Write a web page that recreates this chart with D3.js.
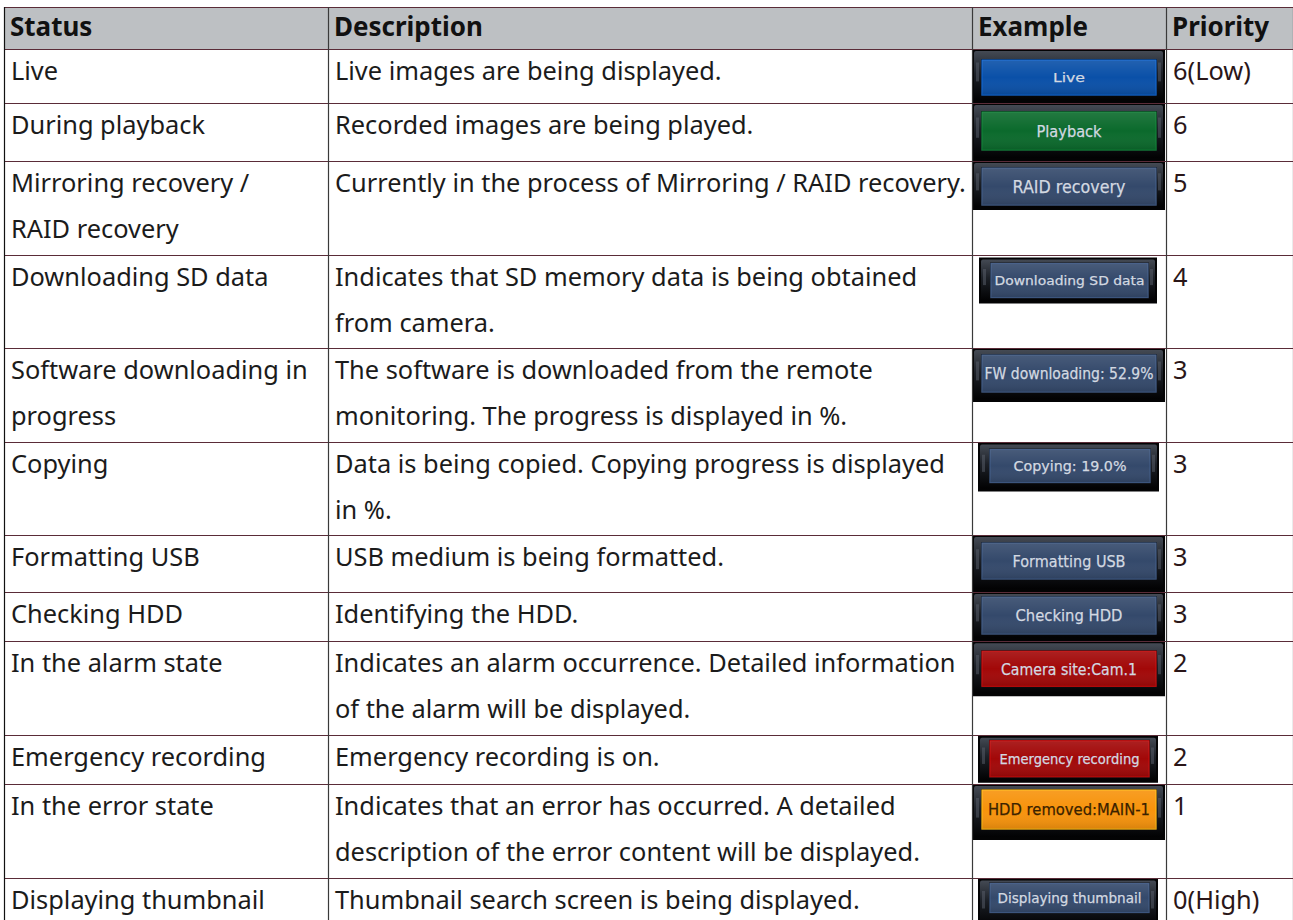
<!DOCTYPE html>
<html><head><meta charset="utf-8">
<script src="https://cdn.jsdelivr.net/npm/d3@7"></script>
<style>body{margin:0;background:#fff;overflow:hidden}</style>
</head><body>
<svg id="chart" width="1293" height="920"></svg>
<script>
// ---------- DATA ----------
const headers = ["Status", "Description", "Example", "Priority"];
const statuses = [
  ["Live"],
  ["During playback"],
  ["Mirroring recovery /", "RAID recovery"],
  ["Downloading SD data"],
  ["Software downloading in", "progress"],
  ["Copying"],
  ["Formatting USB"],
  ["Checking HDD"],
  ["In the alarm state"],
  ["Emergency recording"],
  ["In the error state"],
  ["Displaying thumbnail"]
];
const descriptions = [
  ["Live images are being displayed."],
  ["Recorded images are being played."],
  ["Currently in the process of Mirroring / RAID recovery."],
  ["Indicates that SD memory data is being obtained", "from camera."],
  ["The software is downloaded from the remote", "monitoring. The progress is displayed in %."],
  ["Data is being copied. Copying progress is displayed", "in %."],
  ["USB medium is being formatted."],
  ["Identifying the HDD."],
  ["Indicates an alarm occurrence. Detailed information", "of the alarm will be displayed."],
  ["Emergency recording is on."],
  ["Indicates that an error has occurred. A detailed", "description of the error content will be displayed."],
  ["Thumbnail search screen is being displayed."]
];
const exampleLabels = [
  "Live", "Playback", "RAID recovery", "Downloading SD data", "FW downloading: 52.9%",
  "Copying: 19.0%", "Formatting USB", "Checking HDD", "Camera site:Cam.1",
  "Emergency recording", "HDD removed:MAIN-1", "Displaying thumbnail"
];
const priorities = ["6(Low)", "6", "5", "4", "3", "3", "3", "3", "2", "2", "1", "0(High)"];

// ---------- STYLE / LAYOUT ----------
const colEdges = [4, 328, 972, 1166, 1293];
const tableTop = 7, headerH = 42;
const BLUE = "#0a50a8", GREEN = "#0b6a2c", SLATE = "#34496b", RED = "#a20808", ORANGE = "#f7930c";
const buttonStyles = [
  {fill: BLUE,   full: true,  dy: 0, h: 54, it: 11, ih: 35, fs: 12.5, tw: 32},
  {fill: GREEN,  full: true,  dy: 0, h: 58, it: 9,  ih: 38, fs: 16, tw: 65},
  {fill: SLATE,  full: true,  dy: 0, h: 49, it: 7,  ih: 37, fs: 18, tw: 113},
  {fill: SLATE,  full: false, dx: 7, w: 178, dy: 3, h: 46, it: 6, ih: 34, fs: 13, tw: 150},
  {fill: SLATE,  full: true,  dy: 0, h: 54, it: 7,  ih: 37, fs: 15.5, tw: 169},
  {fill: SLATE,  full: false, dx: 6, w: 181, dy: 1, h: 49, it: 7, ih: 33, fs: 14.5, tw: 113},
  {fill: SLATE,  full: true,  dy: 0, h: 57, it: 8,  ih: 36, fs: 16.5, tw: 113},
  {fill: SLATE,  full: true,  dy: 0, h: 49, it: 5,  ih: 37, fs: 16.5, tw: 107},
  {fill: RED,    full: true,  dy: 0, h: 55, it: 10, ih: 35, fs: 16.5, tw: 136},
  {fill: RED,    full: false, dx: 6, w: 180, dy: 1, h: 47, it: 5, ih: 36, fs: 14, tw: 140},
  {fill: ORANGE, full: true,  dy: 0, h: 56, it: 6,  ih: 39, fs: 16.5, tw: 162, text: "#3a2200"},
  {fill: SLATE,  full: false, dx: 6, w: 180, dy: 1, h: 50, it: 5, ih: 29, fs: 13.5, tw: 144}
];
const FONT = "'Noto Sans', 'Open Sans', sans-serif";
const TEXT = "#1b1b1b", PRIO = "#2a1618";
const HLINE = "#5a2c38", VLINE = "#3a3a3a";

const svg = d3.select("#chart");

function fit(str, weight, target) {
  const t = svg.append("text").attr("font-family", FONT).attr("font-size", 20)
    .attr("font-weight", weight).text(str);
  const w = t.node().getComputedTextLength();
  t.remove();
  return 20 * target / w;
}
const bodyFS = fit("Currently in the process of Mirroring / RAID recovery.", 400, 631);
const headFS = fit("Description", 700, 149);

const rows = statuses.map((s, i) => {
  const lines = Math.max(s.length, descriptions[i].length);
  const st = buttonStyles[i];
  const h = Math.max(5 + 44.25 * lines, st.dy + st.h);
  return {i, lines, h};
});
let yAcc = tableTop + headerH;
rows.forEach(r => { r.y = yAcc; yAcc += r.h; });

const x = d3.scaleOrdinal().domain(headers).range(colEdges.slice(0, 4));
const colW = headers.map((h, k) => colEdges[k + 1] - colEdges[k]);

const defs = svg.append("defs");
const bev = defs.append("linearGradient").attr("id", "bevel").attr("x1", 0).attr("y1", 0).attr("x2", 0).attr("y2", 1);
bev.append("stop").attr("offset", "0").attr("stop-color", "#444a54");
bev.append("stop").attr("offset", "0.45").attr("stop-color", "#1c2027");
bev.append("stop").attr("offset", "1").attr("stop-color", "#020203");
const shine = defs.append("linearGradient").attr("id", "shine").attr("x1", 0).attr("y1", 0).attr("x2", 0).attr("y2", 1);
shine.append("stop").attr("offset", "0").attr("stop-color", "#fff").attr("stop-opacity", 0.10);
shine.append("stop").attr("offset", "0.5").attr("stop-color", "#fff").attr("stop-opacity", 0.0);
shine.append("stop").attr("offset", "1").attr("stop-color", "#000").attr("stop-opacity", 0.12);

// header
svg.append("rect").attr("x", colEdges[0]).attr("y", tableTop).attr("width", colEdges[4] - colEdges[0])
  .attr("height", headerH).attr("fill", "#bdc0c3");
svg.append("g").selectAll("text").data(headers).join("text")
  .attr("x", d => x(d) + 6).attr("y", tableTop + 29)
  .attr("font-family", FONT).attr("font-weight", 700).attr("font-size", headFS)
  .attr("fill", "#111").text(d => d);

const rowG = svg.append("g").selectAll("g").data(rows).join("g");
function cellText(sel, col, getLines, color) {
  sel.append("text")
    .attr("font-family", FONT).attr("font-size", bodyFS).attr("fill", color)
    .selectAll("tspan").data(r => getLines(r).map((t, k) => ({t, k, r}))).join("tspan")
    .attr("x", x(col) + 7).attr("y", d => d.r.y + 31 + d.k * 46).text(d => d.t);
}
cellText(rowG, "Status", r => statuses[r.i], TEXT);
cellText(rowG, "Description", r => descriptions[r.i], TEXT);
cellText(rowG, "Priority", r => [priorities[r.i]], PRIO);

const btn = rowG.append("g").attr("class", "btn");
btn.each(function(r) {
  const st = buttonStyles[r.i];
  const g = d3.select(this);
  const bx = st.full ? x("Example") : x("Example") + st.dx;
  const bw = st.full ? colW[2] - 1 : st.w;
  const by = r.y + st.dy, bh = st.h;
  g.append("rect").attr("x", bx).attr("y", by).attr("width", bw).attr("height", bh).attr("fill", "#030304");
  g.append("rect").attr("x", bx + 2).attr("y", by + 2).attr("width", bw - 4).attr("height", bh - 5)
    .attr("rx", 2).attr("fill", "url(#bevel)");
  [bx + 4, bx + bw - 7].forEach(sx => g.append("rect").attr("x", sx).attr("y", by + bh * 0.25)
    .attr("width", 3).attr("height", bh * 0.35).attr("fill", "#59606b").attr("opacity", 0.5));
  const il = st.full ? 10 : 12, ir = 9;
  const ix = bx + il, iw = bw - il - ir, iy = by + st.it, ih = st.ih;
  g.append("rect").attr("x", ix - 1).attr("y", iy - 1).attr("width", iw + 2).attr("height", ih + 2)
    .attr("fill", "#14171c");
  g.append("rect").attr("x", ix).attr("y", iy).attr("width", iw).attr("height", ih)
    .attr("fill", st.fill).attr("stroke", d3.color(st.fill).brighter(0.6)).attr("stroke-width", 1.2);
  g.append("rect").attr("x", ix).attr("y", iy).attr("width", iw).attr("height", ih).attr("fill", "url(#shine)");
  g.append("text").attr("x", ix + iw / 2).attr("y", iy + ih / 2).attr("dy", "0.36em")
    .attr("text-anchor", "middle").attr("font-family", "'DejaVu Sans', 'Liberation Sans', sans-serif")
    .attr("font-weight", 400).attr("font-size", st.fs)
    .attr("textLength", st.tw).attr("lengthAdjust", "spacingAndGlyphs")
    .attr("fill", st.text || "#d3d9e1")
    .attr("stroke", st.text || "#d3d9e1").attr("stroke-width", 0.25)
    .text(exampleLabels[r.i]);
});

const gridG = svg.append("g");
const hYs = [tableTop, tableTop + headerH].concat(rows.map(r => r.y + r.h));
gridG.selectAll("line.h").data(hYs).join("line").attr("class", "h")
  .attr("x1", colEdges[0]).attr("x2", colEdges[4]).attr("y1", d => Math.round(d) + 0.5).attr("y2", d => Math.round(d) + 0.5)
  .attr("stroke", HLINE).attr("stroke-width", 1.2);
gridG.selectAll("line.v").data(colEdges).join("line").attr("class", "v")
  .attr("x1", d => d + 0.5).attr("x2", d => d + 0.5).attr("y1", tableTop).attr("y2", 920)
  .attr("stroke", (d, k) => k === 0 ? "#111" : VLINE).attr("stroke-width", 1.2);
btn.raise();
</script>
</body></html>
